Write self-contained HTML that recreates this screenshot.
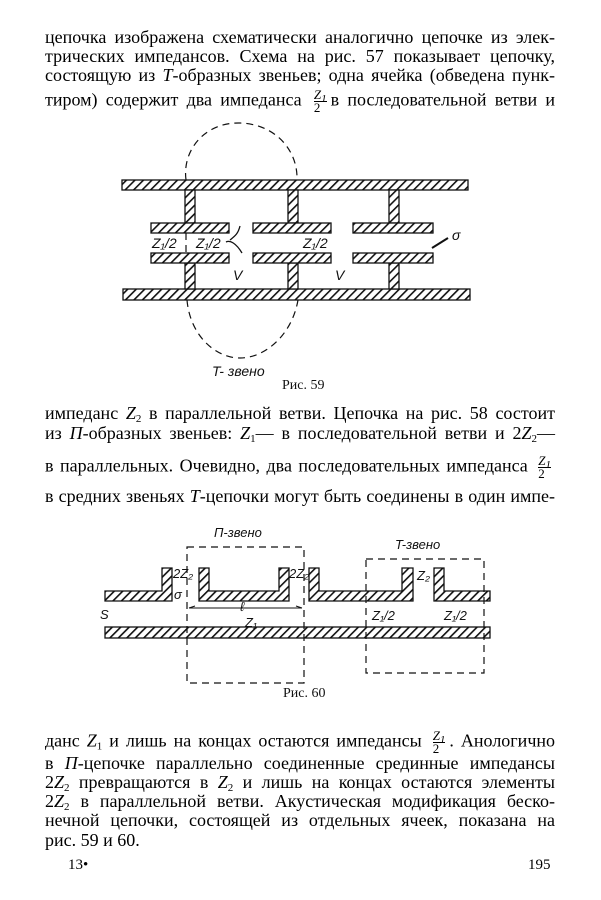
<!DOCTYPE html>
<html><head><meta charset="utf-8"><style>
body{margin:0;background:#fff;}
#p{position:relative;width:601px;height:900px;overflow:hidden;background:#fff;font-family:"Liberation Serif",serif;color:#000;}
.l{position:absolute;left:45px;width:510px;font-size:18px;line-height:20px;white-space:nowrap;text-align:justify;text-align-last:justify;}
.fr{display:inline-block;vertical-align:middle;text-align:center;font-size:13px;line-height:12px;margin:0 4px;}
.fr span{display:block;}
.fr .n{border-bottom:1px solid #000;font-style:italic;}
i{font-style:italic;}
sub{font-size:11px;vertical-align:-3px;line-height:0;}
svg text{font-family:"Liberation Sans",sans-serif;font-style:italic;fill:#111;}
</style></head><body><div id="p">
<div class="l" style="top:27px">цепочка изображена схематически аналогично цепочке из элек-</div>
<div class="l" style="top:46px">трических импедансов. Схема на рис. 57 показывает цепочку,</div>
<div class="l" style="top:65px">состоящую из <i>T</i>-образных звеньев; одна ячейка (обведена пунк-</div>
<div class="l" style="top:89px">тиром) содержит два импеданса <span class="fr"><span class="n">Z<sub>1</sub></span><span>2</span></span>в последовательной ветви и</div>

<svg width="601" height="900" style="position:absolute;left:0;top:0">
<defs><pattern id="h" width="6" height="6" patternUnits="userSpaceOnUse" patternTransform="rotate(45)"><rect width="6" height="6" fill="#fff"/><rect width="1.6" height="6" fill="#111"/></pattern></defs>
<g fill="url(#h)" stroke="#111" stroke-width="1.3">
<rect x="122" y="180" width="346" height="10"/>
<rect x="123" y="289" width="347" height="11"/>
<rect x="185" y="190" width="10" height="33"/><rect x="288" y="190" width="10" height="33"/><rect x="389" y="190" width="10" height="33"/>
<rect x="185" y="263" width="10" height="26"/><rect x="288" y="263" width="10" height="26"/><rect x="389" y="263" width="10" height="26"/>
<rect x="151" y="223" width="78" height="10"/><rect x="253" y="223" width="78" height="10"/><rect x="353" y="223" width="80" height="10"/>
<rect x="151" y="253" width="78" height="10"/><rect x="253" y="253" width="78" height="10"/><rect x="353" y="253" width="80" height="10"/>
</g>
<g fill="none" stroke="#111" stroke-width="1.2" stroke-dasharray="7,5">
<path d="M186 180 C182 150 205 122 240 123 C275 124 298 150 297 180"/>
<path d="M187 300 C190 335 215 358 240 358 C265 358 292 335 298 300"/>
<line x1="186" y1="233" x2="186" y2="253"/>
</g>
<path d="M242 253 C236 243 230 240 226 242 M230 240 C235 236 238 234 240 226" fill="none" stroke="#111" stroke-width="1.3"/>
<path d="M432 248 L448 238" stroke="#111" stroke-width="2"/>
<g font-size="14"><text x="152" y="248">Z₁/2</text><text x="196" y="248">Z₁/2</text><text x="303" y="248">Z₁/2</text>
<text x="233" y="280">V</text><text x="335" y="280">V</text><text x="452" y="240">σ</text>
<text x="212" y="376">T- звено</text></g>
<text x="282" y="389" font-size="14" style="font-family:'Liberation Serif',serif;font-style:normal">Рис. 59</text>

<g fill="url(#h)" stroke="#111" stroke-width="1.3">
<rect x="105" y="627" width="385" height="11"/>
<path d="M105 591 H162 V568 H172 V601 H105 Z"/>
<path d="M199 568 H209 V591 H279 V568 H289 V601 H199 Z"/>
<path d="M309 568 H319 V591 H402 V568 H413 V601 H309 Z"/>
<path d="M434 568 H444 V591 H490 V601 H434 Z"/>
</g>
<g fill="none" stroke="#111" stroke-width="1.2" stroke-dasharray="7,5">
<rect x="187" y="547" width="117" height="136"/>
<rect x="366" y="559" width="118" height="114"/>
</g>
<path d="M189 608 H302 M189 608 l6 -2 M302 608 l-6 -2" stroke="#111" stroke-width="1"/>
<g font-size="13"><text x="214" y="537">П-звено</text><text x="395" y="549">T-звено</text>
<text x="173" y="578">2Z₂</text><text x="289" y="578">2Z₂</text><text x="417" y="580">Z₂</text>
<text x="174" y="599">σ</text><text x="100" y="619">S</text><text x="240" y="611">ℓ</text><text x="245" y="627">Z₁</text>
<text x="372" y="620">Z₁/2</text><text x="444" y="620">Z₁/2</text></g>
<text x="283" y="697" font-size="14" style="font-family:'Liberation Serif',serif;font-style:normal">Рис. 60</text>
</svg>

<div class="l" style="top:403px">импеданс <i>Z</i><sub>2</sub> в параллельной ветви. Цепочка на рис. 58 состоит</div>
<div class="l" style="top:423px">из <i>П</i>-образных звеньев: <i>Z</i><sub>1</sub>— в последовательной ветви и 2<i>Z</i><sub>2</sub>—</div>
<div class="l" style="top:455px">в параллельных. Очевидно, два последовательных импеданса <span class="fr"><span class="n">Z<sub>1</sub></span><span>2</span></span></div>
<div class="l" style="top:486px">в средних звеньях <i>T</i>-цепочки могут быть соединены в один импе-</div>

<div class="l" style="top:730px">данс <i>Z</i><sub>1</sub> и лишь на концах остаются импедансы <span class="fr"><span class="n">Z<sub>1</sub></span><span>2</span></span>. Анологично</div>
<div class="l" style="top:753px">в <i>П</i>-цепочке параллельно соединенные срединные импедансы</div>
<div class="l" style="top:772px">2<i>Z</i><sub>2</sub> превращаются в <i>Z</i><sub>2</sub> и лишь на концах остаются элементы</div>
<div class="l" style="top:791px">2<i>Z</i><sub>2</sub> в параллельной ветви. Акустическая модификация беско-</div>
<div class="l" style="top:810px">нечной цепочки, состоящей из отдельных ячеек, показана на</div>
<div class="l" style="top:830px;text-align-last:left">рис. 59 и 60.</div>
<div class="l" style="top:855px;left:68px;width:40px;font-size:15px;text-align-last:left">13•</div>
<div class="l" style="top:855px;left:528px;width:40px;font-size:15px;text-align-last:left">195</div>
</div></body></html>
